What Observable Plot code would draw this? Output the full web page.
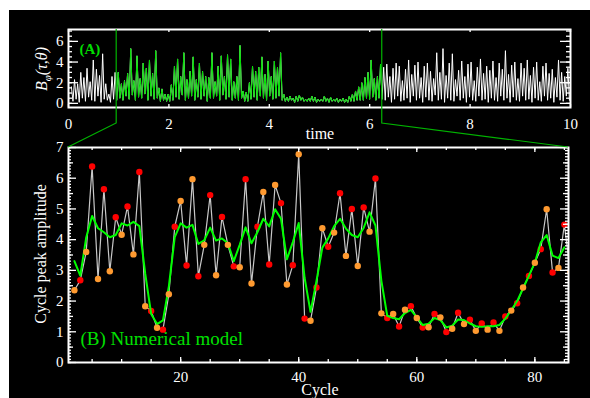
<!DOCTYPE html>
<html><head><meta charset="utf-8">
<script src="https://cdn.jsdelivr.net/npm/d3@7"></script>
<script src="https://cdn.jsdelivr.net/npm/@observablehq/plot@0.6"></script>
<style>
html,body{margin:0;padding:0;background:#fff;width:590px;height:398px;overflow:hidden}
#bg{position:absolute;left:9px;top:10px;width:581px;height:388px;background:#000}
#wrap{position:absolute;left:0;top:0;width:590px;height:398px}
#wrap svg{position:absolute;left:0}
</style></head><body><div id="bg"></div><div id="wrap"></div>
<script>
// ---- Panel (B): cycle peak amplitudes, cycles 2..86 (red = odd, orange = even)
const firstCycle = 2;
const amplitude = [
  2.35, 2.68, 3.60, 6.38, 2.72, 5.64, 2.97, 4.73, 4.16, 5.08,
  3.52, 6.20, 1.83, 1.68, 1.13, 1.07, 2.22, 4.42, 5.26, 3.16,
  5.97, 2.81, 3.83, 5.45, 2.84, 4.74, 3.83, 3.13, 3.10, 5.97,
  2.57, 4.42, 5.55, 3.19, 5.78, 5.19, 2.54, 3.17, 6.78, 1.43,
  1.36, 2.44, 4.37, 3.77, 4.23, 5.51, 3.47, 5.00, 3.14, 5.05,
  4.26, 5.99, 1.60, 1.45, 1.58, 1.17, 1.72, 1.83, 1.45, 1.14,
  1.15, 1.58, 1.47, 0.99, 1.10, 1.62, 1.25, 1.39, 1.03, 1.27,
  1.07, 1.30, 1.03, 1.50, 1.69, 1.93, 2.44, 2.82, 3.25, 3.69,
  4.99, 2.93, 3.08, 4.49, 2.95
];
// green smoothed curve, cycles 2..85
const smoothed = [
  3.30, 2.83, 4.07, 4.77, 4.37, 4.24, 4.08, 4.15, 4.53, 4.46,
  4.58, 4.44, 2.89, 1.58, 1.25, 1.37, 2.48, 4.08, 4.53, 4.39,
  4.48, 3.86, 3.98, 4.39, 3.97, 4.04, 3.88, 3.30, 3.83, 4.40,
  3.88, 4.24, 4.68, 4.43, 4.99, 4.68, 3.36, 3.92, 4.54, 2.75,
  1.65, 2.65, 3.74, 4.04, 4.44, 4.68, 4.36, 4.15, 4.08, 4.38,
  4.89, 4.46, 2.66, 1.52, 1.45, 1.41, 1.61, 1.71, 1.47, 1.22,
  1.26, 1.45, 1.38, 1.14, 1.20, 1.40, 1.38, 1.27, 1.18, 1.16,
  1.18, 1.18, 1.22, 1.43, 1.70, 2.00, 2.41, 2.83, 3.25, 3.91,
  4.15, 3.48, 3.40, 3.75
];
const cycleTicks = [20, 40, 60, 80];
const ampTicks = [0, 1, 2, 3, 4, 5, 6, 7];

// ---- Panel (A): B_phi time series, one spike per cycle (peak, then trough)
const spikePeriod = 0.0622;
const zoomStart = 0.96, zoomEnd = 6.25;
const spikesBefore = 15;
const topPeak = [
  // before zoom window (white)
  1.6, 2.3, 1.9, 3.0, 2.5, 3.4, 2.1, 4.2, 3.3, 2.7, 4.8, 1.9, 0.9, 2.6, 3.0,
  // zoom window, cycles 1..85 (green)
  3.0, 1.9, 2.2, 2.9, 5.3, 2.2, 4.6, 2.4, 3.9, 3.4,
  4.2, 2.9, 5.1, 1.5, 1.4, 0.9, 0.9, 1.8, 3.6, 4.3,
  2.6, 4.9, 2.3, 3.1, 4.5, 2.3, 3.9, 3.1, 2.6, 2.5,
  4.9, 2.1, 3.6, 4.6, 2.6, 4.7, 4.3, 2.1, 2.6, 5.6,
  1.2, 1.1, 2.0, 3.6, 3.1, 3.5, 4.5, 2.8, 4.1, 2.6,
  4.1, 3.5, 4.9, 0.9, 0.6, 0.7, 0.5, 0.7, 0.8, 0.6,
  0.4, 0.5, 0.7, 0.6, 0.4, 0.4, 0.7, 0.5, 0.6, 0.4,
  0.5, 0.4, 0.5, 0.4, 0.7, 0.9, 1.2, 1.6, 2.0, 2.5,
  3.0, 4.2, 2.4, 2.6, 3.8,
  // after zoom window (white)
  3.5, 3.8, 2.6, 3.4, 3.9, 3.6, 2.2, 3.3, 4.2, 2.8,
  3.7, 4.0, 2.5, 3.6, 3.9, 3.1, 2.4, 4.9, 3.0, 5.3,
  2.7, 3.9, 4.8, 2.3, 3.2, 4.1, 2.6, 3.8, 4.0, 2.2,
  3.5, 4.3, 2.9, 3.6, 3.2, 4.1, 2.5, 3.9, 3.3, 5.1,
  2.8, 3.7, 4.0, 2.4, 3.9, 3.4, 4.2, 2.7, 3.5, 4.0,
  2.1, 3.6, 3.9, 2.9, 3.3, 2.5, 4.2, 3.0, 2.6, 3.4
];
const topTrough = [
  0.2, 0.4, 0.1, 0.5, 0.2, 0.6, 0.3, 0.2, 0.7, 0.1, 0.4, 0.3, 0.1, 0.4, 0.3,
  0.5, 0.3, 0.7, 0.4, 0.8, 0.3, 0.6, 0.5, 0.9, 0.3,
  0.7, 0.4, 0.5, 0.2, 0.3, 0.2, 0.2, 0.3, 0.6, 0.4,
  0.8, 0.3, 0.5, 0.7, 0.3, 0.6, 0.4, 0.7, 0.2, 0.5,
  0.5, 0.7, 0.3, 0.8, 0.4, 0.6, 0.3, 0.5, 0.3, 0.5,
  0.2, 0.2, 0.4, 0.6, 0.3, 0.7, 0.5, 0.3, 0.7, 0.4,
  0.5, 0.7, 0.3, 0.2, 0.2, 0.3, 0.1, 0.2, 0.3, 0.2,
  0.2, 0.2, 0.2, 0.1, 0.2, 0.2, 0.2, 0.1, 0.2, 0.2,
  0.1, 0.2, 0.1, 0.1, 0.2, 0.2, 0.3, 0.3, 0.3, 0.5,
  0.4, 0.6, 0.3, 0.5, 0.4,
  0.3, 0.6, 0.1, 0.4, 0.7, 0.2, 0.3, 0.5, 0.1, 0.7,
  0.3, 0.5, 0.1, 0.6, 0.3, 0.2, 0.8, 0.3, 0.4, 0.1,
  0.5, 0.3, 0.2, 0.7, 0.3, 0.5, 0.1, 0.6, 0.3, 0.2,
  0.7, 0.3, 0.4, 0.1, 0.5, 0.3, 0.2, 0.7, 0.3, 0.5,
  0.1, 0.6, 0.3, 0.2, 0.7, 0.3, 0.4, 0.1, 0.5, 0.3,
  0.2, 0.7, 0.3, 0.5, 0.1, 0.6, 0.3, 0.2, 0.7, 0.3
];
const timeTicks = [0, 2, 4, 6, 8, 10];
const bTicks = [0, 2, 4, 6];

// ---- build tables
const points = amplitude.map((a, i) => ({cycle: firstCycle + i, amp: a}));
const smooth = smoothed.map((s, i) => ({cycle: firstCycle + i, amp: s}));
const t0 = zoomStart - spikesBefore * spikePeriod;
const topSeries = topPeak.flatMap((p, k) => [
  {t: t0 + (k + 0.5) * spikePeriod, v: p},
  {t: t0 + (k + 1) * spikePeriod, v: topTrough[k]}
]);
const greenSeries = topSeries.filter(d => d.t >= zoomStart - 1e-6 && d.t <= zoomEnd + 1e-6);

const FONT = "'Liberation Serif', 'DejaVu Serif', serif";
const baseStyle = {background: "transparent", color: "white", fontFamily: FONT, fontSize: "15px", overflow: "visible"};
const fmt = d3.format("d");

// inward tick marks drawn as short rules (inset from the opposite side of the frame)
const TW = 590 - 68 - 20, TH = 140 - 29 - 33;   // top frame size
const BW = 590 - 68 - 22, BH = 258 - 7 - 36;    // bottom frame size
const tickStyle = {stroke: "white", strokeWidth: 1.3};
const yTicks = (vals, len, fw) => [
  Plot.ruleY(vals, {...tickStyle, insetRight: fw - len}),
  Plot.ruleY(vals, {...tickStyle, insetLeft: fw - len})
];
const xTicks = (vals, len, fh) => [
  Plot.ruleX(vals, {...tickStyle, insetTop: fh - len}),
  Plot.ruleX(vals, {...tickStyle, insetBottom: fh - len})
];

const topPlot = Plot.plot({
  width: 590, height: 140,
  marginLeft: 68, marginRight: 20, marginTop: 29, marginBottom: 33,
  style: baseStyle,
  x: {domain: [0, 10]},
  y: {domain: [-0.4, 7.15]},
  marks: [
    Plot.line(topSeries, {x: "t", y: "v", stroke: "white", strokeWidth: 1}),
    Plot.line(greenSeries, {x: "t", y: "v", stroke: "#00dd00", strokeWidth: 1}),
    ...yTicks(bTicks, 10, TW),
    ...yTicks(d3.range(0, 7.1, 0.5), 4, TW),
    ...xTicks(timeTicks, 3, TH),
    Plot.frame({stroke: "white", strokeWidth: 2}),
    Plot.axisY({anchor: "left", ticks: bTicks, tickSize: 0, tickPadding: 5, tickFormat: fmt, label: null, fill: "white", fontSize: 15}),
    Plot.axisX({anchor: "bottom", ticks: timeTicks, tickSize: 0, tickPadding: 11, tickFormat: fmt, label: null, fill: "white", fontSize: 15}),
    Plot.text(["(A)"], {frameAnchor: "top-left", dx: 11, dy: 14, textAnchor: "start", fill: "#00dd00", fontWeight: "bold", fontSize: 15})
  ]
});

const botPlot = Plot.plot({
  width: 590, height: 258,
  marginLeft: 68, marginRight: 22, marginTop: 7, marginBottom: 36,
  style: baseStyle,
  x: {domain: [1, 85.7]},
  y: {domain: [0, 7]},
  marks: [
    Plot.line(points, {x: "cycle", y: "amp", stroke: "#c8c8c8", strokeWidth: 1.2, clip: true}),
    Plot.dot(points.filter(d => d.cycle % 2 === 1), {x: "cycle", y: "amp", r: 3.2, fill: "#ff0000", clip: true}),
    Plot.line(smooth, {x: "cycle", y: "amp", stroke: "#00ff00", strokeWidth: 2}),
    Plot.dot(points.filter(d => d.cycle % 2 === 0), {x: "cycle", y: "amp", r: 3.2, fill: "#ff9a30", clip: true}),
    ...yTicks(ampTicks, 8, BW),
    ...yTicks(d3.range(0.5, 7, 1), 5, BW),
    ...yTicks(d3.range(0, 7.01, 0.1), 3, BW),
    ...xTicks(cycleTicks, 5, BH),
    ...xTicks(d3.range(5, 86, 5), 3, BH),
    Plot.frame({stroke: "white", strokeWidth: 2}),
    Plot.axisY({anchor: "left", ticks: ampTicks, tickSize: 0, tickPadding: 5, tickFormat: fmt, label: null, fill: "white", fontSize: 15}),
    Plot.axisX({anchor: "bottom", ticks: cycleTicks, tickSize: 0, tickPadding: 9, tickFormat: fmt, label: null, fill: "white", fontSize: 15}),
    Plot.text(["(B) Numerical model"], {frameAnchor: "bottom-left", dx: 12, dy: -18, textAnchor: "start", fill: "#00e000", fontSize: 19})
  ]
});

const wrap = document.getElementById("wrap");
topPlot.style.top = "0px";
botPlot.style.top = "140px";
wrap.appendChild(topPlot);
wrap.appendChild(botPlot);

// ---- overlay: zoom connector and axis titles
const sxT = d3.scaleLinear(topPlot.scale("x").domain, topPlot.scale("x").range);
const topFrameTop = Math.min(...topPlot.scale("y").range);
const topFrameBottom = Math.max(...topPlot.scale("y").range);
const bxr = botPlot.scale("x").range;
const botFrameTop = 140 + Math.min(...botPlot.scale("y").range);
const knee = topFrameBottom + 16;

const ov = d3.select(wrap).append("svg")
  .attr("width", 590).attr("height", 398)
  .style("position", "absolute").style("left", "0px").style("top", "0px").style("overflow", "visible");
const conn = [[zoomStart, bxr[0]], [zoomEnd, bxr[1]]];
ov.selectAll("path.conn").data(conn).join("path")
  .attr("d", d => `M${sxT(d[0])},${topFrameTop}V${knee}L${d[1]},${botFrameTop}`)
  .attr("fill", "none").attr("stroke", "#00b400").attr("stroke-width", 1.2);

const txt = ov.append("g").attr("fill", "white").attr("font-family", FONT).attr("font-size", 16);
txt.append("text").attr("x", 320).attr("y", 139).attr("text-anchor", "middle").text("time");
txt.append("text").attr("x", 320).attr("y", 395).attr("text-anchor", "middle").text("Cycle");
txt.append("text").attr("transform", "translate(46,254) rotate(-90)").attr("text-anchor", "middle").text("Cycle peak amplitude");
const bl = txt.append("text").attr("transform", "translate(47,69) rotate(-90)").attr("text-anchor", "middle");
bl.append("tspan").attr("font-style", "italic").text("B");
bl.append("tspan").attr("font-size", 11).attr("dy", 4).attr("font-style", "italic").text("φ");
bl.append("tspan").attr("dy", -4).attr("font-style", "italic").text("(τ,θ)");
</script></body></html>
